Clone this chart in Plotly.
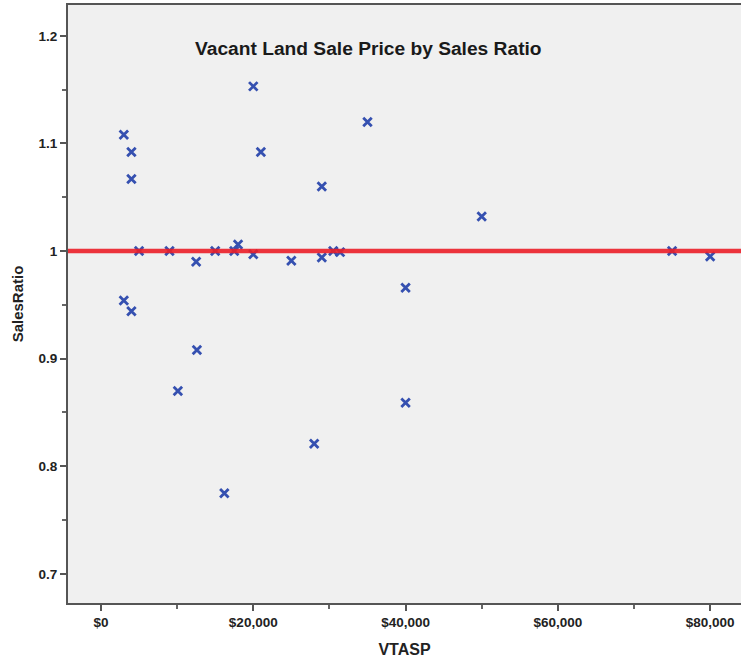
import plotly.graph_objects as go

# Data
vtasp = [3000, 4000, 4000, 5000, 9000, 12500, 15000, 18000, 17500, 20000, 20000,
         21000, 25000, 29000, 29000, 30500, 31400, 35000, 40000, 40000, 28000,
         50000, 75000, 80000, 3000, 4000, 12600, 10100, 16200]
sales_ratio = [1.108, 1.092, 1.067, 1.000, 1.000, 0.990, 1.000, 1.006, 1.000, 1.153, 0.997,
               1.092, 0.991, 1.060, 0.994, 1.000, 0.999, 1.120, 0.966, 0.859, 0.821,
               1.032, 1.000, 0.995, 0.954, 0.944, 0.908, 0.870, 0.775]
ref_ratio = 1.0
x_ticks = [0, 20000, 40000, 60000, 80000]
x_tick_labels = ["$0", "$20,000", "$40,000", "$60,000", "$80,000"]
y_ticks = [0.7, 0.8, 0.9, 1.0, 1.1, 1.2]
y_tick_labels = ["0.7", "0.8", "0.9", "1", "1.1", "1.2"]
title_text = "Vacant Land Sale Price by Sales Ratio"

fig = go.Figure()
fig.add_trace(go.Scatter(
    x=vtasp, y=sales_ratio, mode="markers",
    marker=dict(symbol="x-thin", size=8.5, line=dict(width=2.8, color="#3550b0")),
    showlegend=False, hoverinfo="skip",
))
fig.add_shape(type="line", xref="paper", x0=0, x1=1, yref="y", y0=ref_ratio, y1=ref_ratio,
              line=dict(color="rgba(235,30,40,0.9)", width=4.5), layer="above")

fig.add_annotation(text="<b>%s</b>" % title_text, xref="paper", yref="paper", x=0.447, y=0.928,
                   xanchor="center", yanchor="middle",
                   showarrow=False, font=dict(family="Liberation Sans", size=19.2, color="#1a1a1a"))

axis_font = dict(family="Liberation Sans", size=13.5, color="#222")
fig.update_layout(
    width=741, height=662,
    margin=dict(l=68, r=0, t=5, b=59),
    paper_bgcolor="white", plot_bgcolor="#f0f0f0",
    xaxis=dict(range=[-4330, 84050], tickvals=x_ticks, ticktext=["<b>%s</b>" % t for t in x_tick_labels],
               showgrid=False, zeroline=False, showline=True, linecolor="#555", linewidth=2,
               mirror=True, ticks="outside", ticklen=6, tickwidth=2, tickcolor="#555",
               tickfont=axis_font,
               minor=dict(ticks="outside", ticklen=4, tickwidth=1.5, tickcolor="#666", dtick=10000, tick0=0),
               title=dict(text="<b>VTASP</b>", font=dict(family="Liberation Sans", size=16, color="#222"), standoff=15)),
    yaxis=dict(range=[0.673, 1.2286], tickvals=y_ticks, ticktext=["<b>%s</b>" % t for t in y_tick_labels],
               showgrid=False, zeroline=False, showline=True, linecolor="#555", linewidth=2,
               mirror=False, ticks="outside", ticklen=6, tickwidth=2, tickcolor="#555",
               tickfont=axis_font,
               minor=dict(ticks="outside", ticklen=4, tickwidth=1.5, tickcolor="#666", dtick=0.05, tick0=0.7),
               title=dict(text="<b>SalesRatio</b>", font=dict(family="Liberation Sans", size=15, color="#222"), standoff=11)),
)
fig.write_html("out.html", config={"displayModeBar": False},
               post_script="document.body.style.margin='0';document.body.style.overflow='hidden';")
